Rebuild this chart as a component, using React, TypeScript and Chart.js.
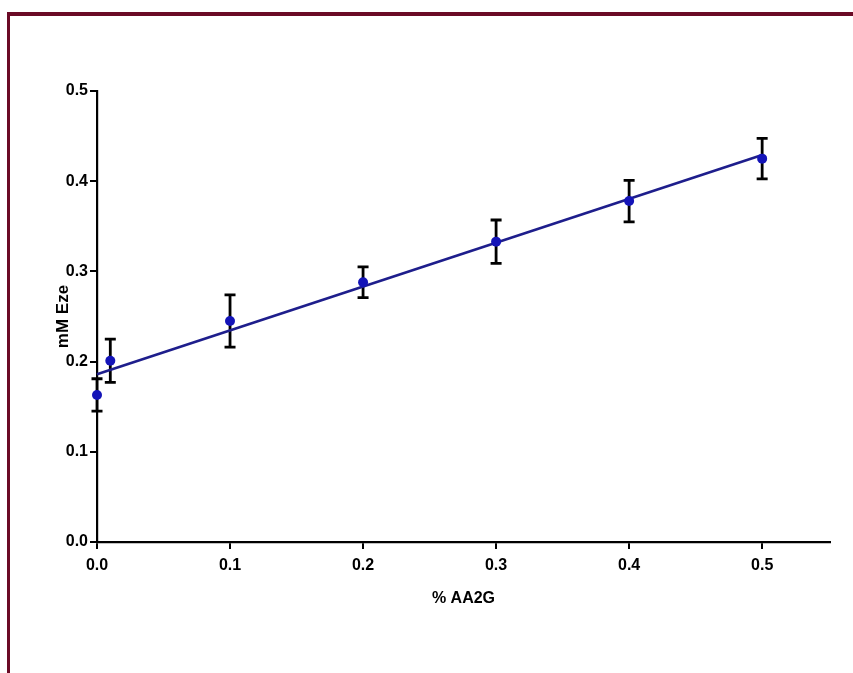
import React, { useEffect, useRef } from "react";
import { Chart, registerables } from "chart.js";

Chart.register(...registerables);

const xValues = [0, 0.01, 0.1, 0.2, 0.3, 0.4, 0.5];
const meanValues = [0.163, 0.201, 0.245, 0.288, 0.333, 0.378, 0.425];
const errValues = [0.018, 0.024, 0.029, 0.017, 0.024, 0.023, 0.0225];
const fitX = [0, 0.5];
const fitY = [0.186, 0.429];
const xTicks = [0, 0.1, 0.2, 0.3, 0.4, 0.5];
const yTicks = [0, 0.1, 0.2, 0.3, 0.4, 0.5];
const xTitle = "% AA2G";
const yTitle = "mM Eze";

const errorBarPlugin = {
  id: "errorBars",
  beforeDatasetsDraw(chart: any) {
    const { ctx, scales } = chart;
    const xs = scales.x;
    const ys = scales.y;
    ctx.save();
    ctx.strokeStyle = "#000000";
    ctx.lineWidth = 2.8;
    ctx.lineCap = "butt";
    const cap = 5.5;
    xValues.forEach((xv, i) => {
      const px = xs.getPixelForValue(xv);
      const top = ys.getPixelForValue(meanValues[i] + errValues[i]);
      const bot = ys.getPixelForValue(meanValues[i] - errValues[i]);
      ctx.beginPath();
      ctx.moveTo(px, top);
      ctx.lineTo(px, bot);
      ctx.moveTo(px - cap, top);
      ctx.lineTo(px + cap, top);
      ctx.moveTo(px - cap, bot);
      ctx.lineTo(px + cap, bot);
      ctx.stroke();
    });
    ctx.restore();
  },
};

export default function App() {
  const ref = useRef<HTMLCanvasElement | null>(null);

  useEffect(() => {
    if (!ref.current) return;
    const chart = new Chart(ref.current, {
      type: "scatter",
      data: {
        datasets: [
          {
            label: "mean",
            data: xValues.map((x, i) => ({ x, y: meanValues[i] })),
            showLine: false,
            pointRadius: 5,
            pointBackgroundColor: "#1414b8",
            pointBorderColor: "#1414b8",
            pointBorderWidth: 0,
            clip: false,
            order: 0,
          },
          {
            label: "fit",
            data: fitX.map((x, i) => ({ x, y: fitY[i] })),
            showLine: true,
            pointRadius: 0,
            borderColor: "#1e1e8c",
            borderWidth: 2.6,
            clip: false,
            order: 1,
          },
        ],
      },
      options: {
        responsive: false,
        animation: false,
        devicePixelRatio: 1,
        layout: { padding: { left: 0, top: 91, right: 23, bottom: 0 } },
        plugins: { legend: { display: false }, tooltip: { enabled: false } },
        scales: {
          x: {
            type: "linear",
            min: 0,
            max: 0.551,
            afterBuildTicks: (s: any) => {
              s.ticks = xTicks.map((v) => ({ value: v }));
            },
            afterFit: (s: any) => {
              s.height = 131;
            },
            border: { display: true, color: "#000", width: 2.2 },
            grid: { drawOnChartArea: false, drawTicks: true, tickLength: 7, color: "#000", lineWidth: 2 },
            ticks: {
              color: "#000",
              padding: 7,
              maxRotation: 0,
              font: { family: '"Liberation Sans", Arial', weight: "bold", size: 16 },
              callback: (v: any) => Number(v).toFixed(1),
            },
            title: {
              display: true,
              text: xTitle,
              color: "#000",
              font: { family: '"Liberation Sans", Arial', weight: "bold", size: 16 },
              padding: { top: 0, bottom: 65 },
            },
          },
          y: {
            type: "linear",
            min: 0,
            max: 0.5,
            afterBuildTicks: (s: any) => {
              s.ticks = yTicks.map((v) => ({ value: v }));
            },
            afterFit: (s: any) => {
              s.width = 97;
            },
            border: { display: true, color: "#000", width: 2.2 },
            grid: { drawOnChartArea: false, drawTicks: true, tickLength: 7, color: "#000", lineWidth: 2 },
            ticks: {
              color: "#000",
              padding: 2,
              font: { family: '"Liberation Sans", Arial', weight: "bold", size: 16 },
              callback: (v: any) => Number(v).toFixed(1),
            },
            title: {
              display: true,
              text: yTitle,
              color: "#000",
              font: { family: '"Liberation Sans", Arial', weight: "bold", size: 17 },
              padding: { top: 53, bottom: 0 },
            },
          },
        },
      },
      plugins: [errorBarPlugin],
    });
    return () => chart.destroy();
  }, []);

  return (
    <div style={{ position: "absolute", left: 0, top: 0, width: 853, height: 673, background: "#fff", overflow: "hidden" }}>
      <canvas ref={ref} width={853} height={673} style={{ position: "absolute", left: 0, top: 0, width: 853, height: 673 }} />
      <div
        style={{
          position: "absolute",
          left: 7,
          top: 12,
          width: 846,
          height: 661,
          borderTop: "4px solid #6b0a26",
          borderLeft: "3px solid #6b0a26",
          boxSizing: "border-box",
          pointerEvents: "none",
        }}
      />
    </div>
  );
}
